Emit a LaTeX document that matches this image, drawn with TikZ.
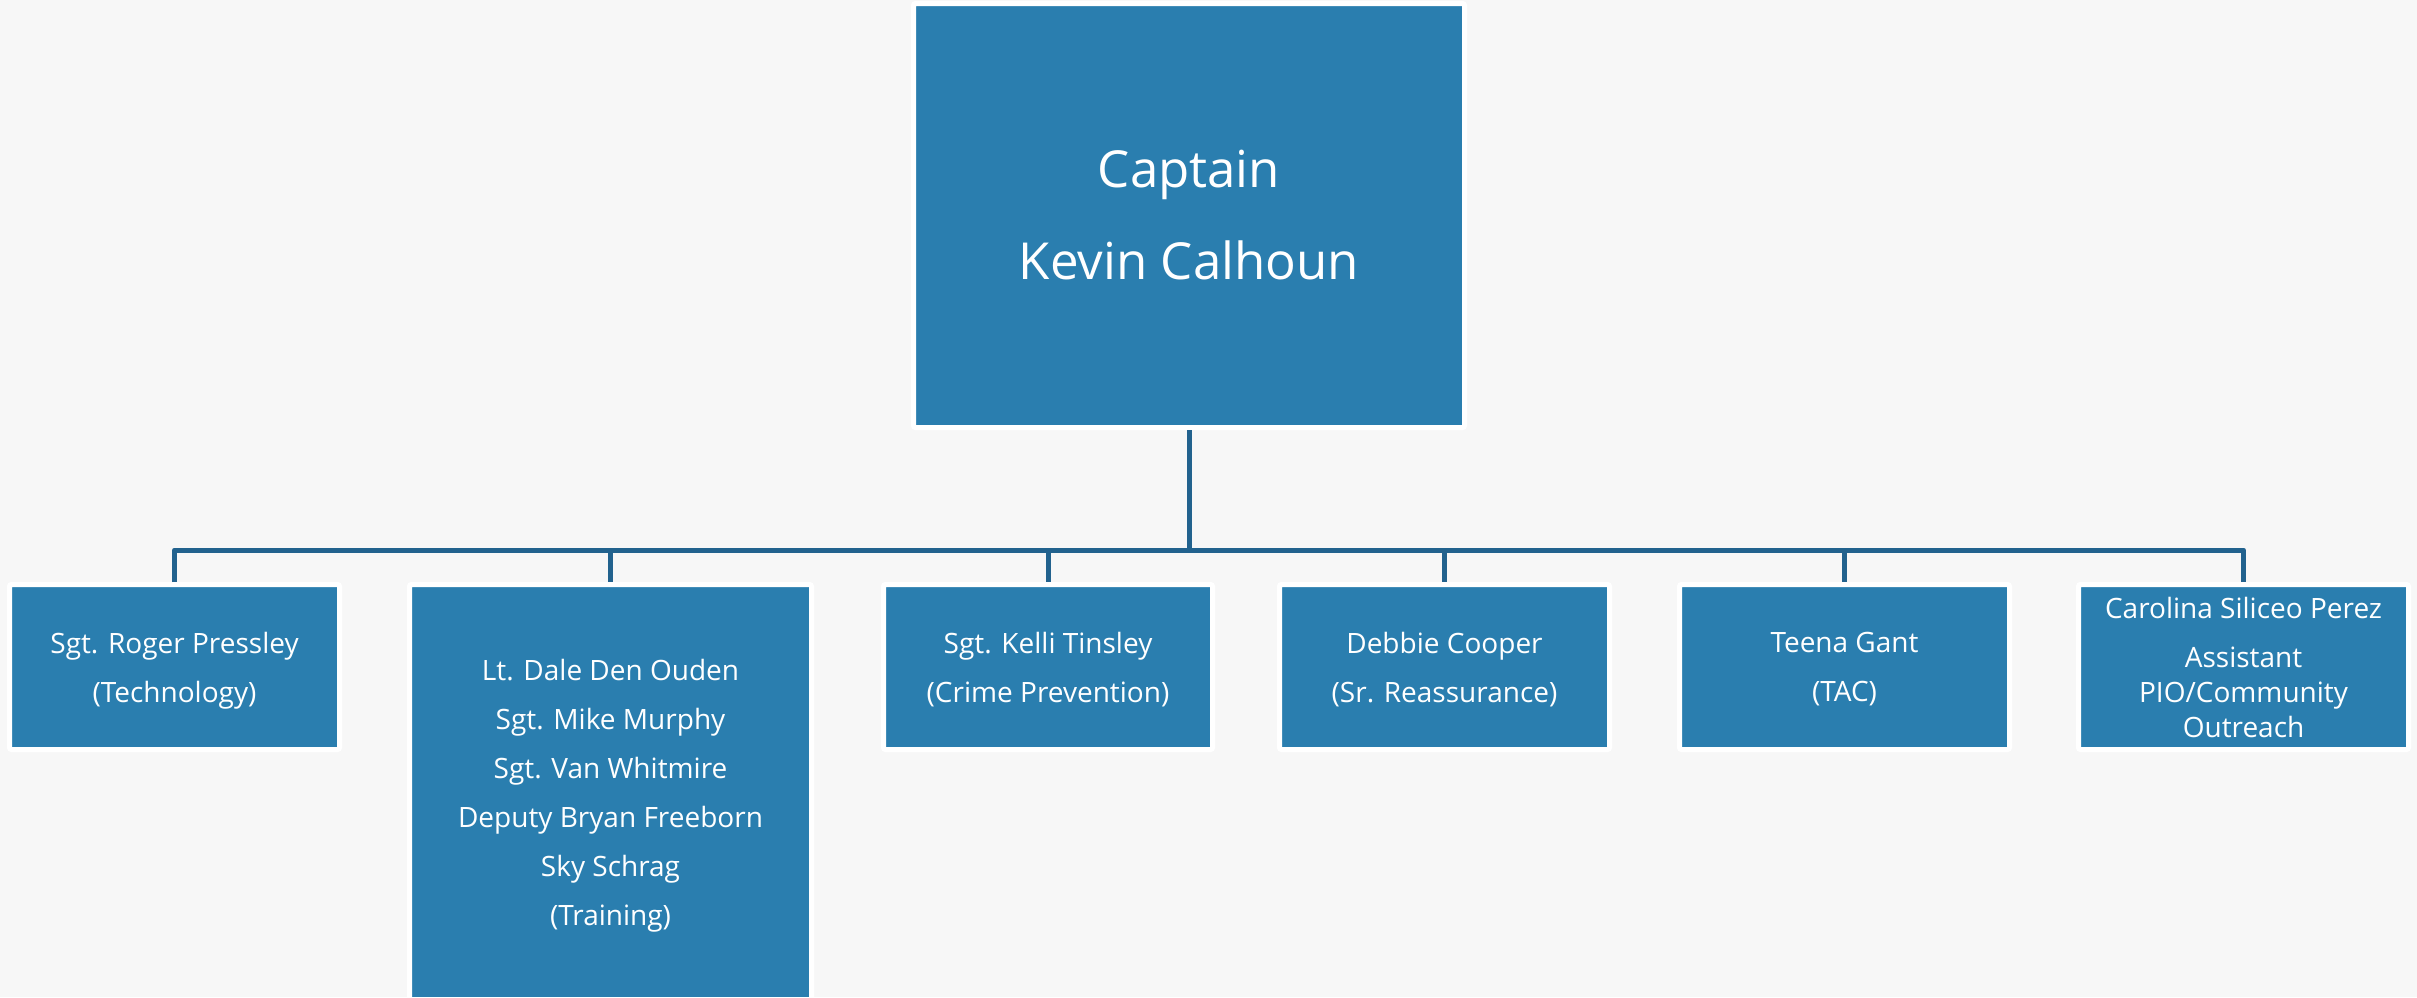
\documentclass[tikz,border=0pt]{standalone}
\usepackage{fontspec}
\setmainfont{Open Sans}
\definecolor{boxblue}{HTML}{2A7EAF}
\definecolor{linkblue}{HTML}{22628E}
\definecolor{bg}{HTML}{F7F7F7}
\newcommand\nodepth[1]{\raisebox{0pt}[\height][0pt]{#1}}
\begin{document}
\begin{tikzpicture}[x=1pt,y=-1pt,
  orgbox/.style={rectangle, fill=boxblue, draw=white, line width=5pt, outer sep=2.5pt,
    rounded corners=2pt, inner sep=0pt, text=white, align=center,
    font=\fontsize{28}{35}\selectfont},
  bigbox/.style={orgbox, font=\fontsize{51}{64}\selectfont},
  link/.style={draw=linkblue, line width=5pt, line join=round}]
\fill[bg] (0,0) rectangle (2417,997);
\useasboundingbox (0,0) rectangle (2417,997);
\coordinate (bus) at (1189,550);
\node[bigbox, minimum width=551pt, minimum height=424pt] (cap) at (1189,215.5) {Captain\\[28pt]Kevin Calhoun};
\node[orgbox, minimum width=330pt, minimum height=165pt] (b1) at (174.5,667) {Sgt. Roger Pressley\\[14pt]\nodepth{(Technology)}};
\node[orgbox, minimum width=402pt, minimum height=415pt] (b2) at (610.5,792) {Lt. Dale Den Ouden\\[14pt]Sgt. Mike Murphy\\[14pt]Sgt. Van Whitmire\\[14pt]Deputy Bryan Freeborn\\[14pt]Sky Schrag\\[14pt]\nodepth{(Training)}};
\node[orgbox, minimum width=329pt, minimum height=165pt] (b3) at (1048,667) {Sgt. Kelli Tinsley\\[14pt]\nodepth{(Crime Prevention)}};
\node[orgbox, minimum width=330pt, minimum height=165pt] (b4) at (1444.5,667) {Debbie Cooper\\[14pt]\nodepth{(Sr. Reassurance)}};
\node[orgbox, minimum width=330pt, minimum height=165pt] (b5) at (1844.5,667) {Teena Gant\\[14pt]\nodepth{(TAC)}};
\node[orgbox, minimum width=330pt, minimum height=165pt] (b6) at (2243.5,667) {Carolina Siliceo Perez\\[14pt]Assistant\\PIO/Community\\Outreach};
\draw[link] (cap.south) -- (cap.south |- bus);
\draw[link] (b1.north) -- (b1.north |- bus) -- (b6.north |- bus) -- (b6.north);
\draw[link] (b2.north |- bus) -- (b2.north);
\draw[link] (b3.north |- bus) -- (b3.north);
\draw[link] (b4.north |- bus) -- (b4.north);
\draw[link] (b5.north |- bus) -- (b5.north);
\end{tikzpicture}
\end{document}
